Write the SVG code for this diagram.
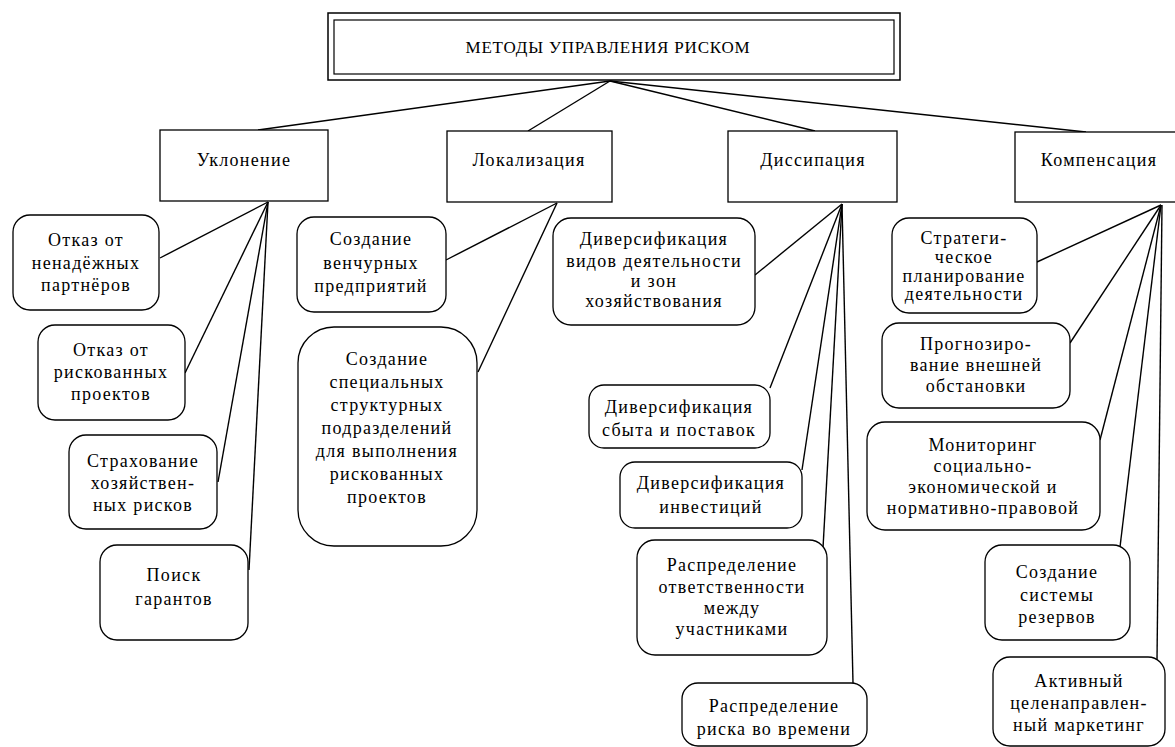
<svg xmlns="http://www.w3.org/2000/svg" width="1175" height="747" viewBox="0 0 1175 747">
<style>
.box{fill:#fff;stroke:#000;stroke-width:1.3}
.t{font-family:"Liberation Serif","Times New Roman",serif;font-size:18px;letter-spacing:1.3px;text-anchor:middle;fill:#000}
.tt{font-family:"Liberation Serif","Times New Roman",serif;font-size:17px;letter-spacing:0.8px;text-anchor:middle;fill:#000}
#connectors line{stroke:#000;stroke-width:1.4;fill:none}
</style>
<rect x="0" y="0" width="1175" height="747" fill="#fff"/>
<g id="connectors">
<line x1="610" y1="81" x2="258" y2="130"/>
<line x1="610" y1="81" x2="528" y2="131"/>
<line x1="610" y1="81" x2="815" y2="131"/>
<line x1="610" y1="81" x2="1086" y2="132"/>
<line x1="268" y1="202" x2="160" y2="258"/>
<line x1="268" y1="202" x2="185" y2="373"/>
<line x1="268" y1="202" x2="218" y2="482"/>
<line x1="268" y1="202" x2="249" y2="570"/>
<line x1="557" y1="203" x2="446" y2="260"/>
<line x1="557" y1="203" x2="478" y2="372"/>
<line x1="842" y1="204" x2="755" y2="275"/>
<line x1="842" y1="204" x2="770" y2="388"/>
<line x1="842" y1="204" x2="802" y2="470"/>
<line x1="842" y1="204" x2="823" y2="548"/>
<line x1="842" y1="204" x2="853" y2="683"/>
<line x1="1161" y1="205" x2="1037" y2="262"/>
<line x1="1161" y1="205" x2="1070" y2="343"/>
<line x1="1161" y1="205" x2="1100" y2="440"/>
<line x1="1161" y1="205" x2="1120" y2="547"/>
<line x1="1162" y1="205" x2="1157" y2="660"/>
</g>
<g id="root">
<rect x="328" y="13" width="572" height="67" fill="#fff" stroke="#000" stroke-width="1.5"/>
<rect x="334" y="20" width="560" height="54" fill="none" stroke="#000" stroke-width="1.2"/>
<text class="tt" x="608" y="53">МЕТОДЫ УПРАВЛЕНИЯ РИСКОМ</text>
</g>
<g id="uklonenie">
<rect class="box" x="160" y="130" width="168" height="71"/>
<text class="t" x="244" y="166">Уклонение</text>
</g>
<g id="lokalizaciya">
<rect class="box" x="447" y="131" width="165" height="71"/>
<text class="t" x="529" y="166">Локализация</text>
</g>
<g id="dissipaciya">
<rect class="box" x="728" y="131" width="169" height="71"/>
<text class="t" x="813" y="166">Диссипация</text>
</g>
<g id="kompensaciya">
<rect class="box" x="1015" y="132" width="170" height="70"/>
<text class="t" x="1099" y="166">Компенсация</text>
</g>
<g id="a1">
<rect class="box" x="13" y="215" width="146" height="95" rx="17"/>
<text class="t" x="86" y="246">Отказ от</text>
<text class="t" x="86" y="269">ненадёжных</text>
<text class="t" x="86" y="291">партнёров</text>
</g>
<g id="a2">
<rect class="box" x="38" y="325" width="147" height="95" rx="17"/>
<text class="t" x="111" y="356">Отказ от</text>
<text class="t" x="111" y="378">рискованных</text>
<text class="t" x="111" y="400">проектов</text>
</g>
<g id="a3">
<rect class="box" x="69" y="435" width="148" height="94" rx="17"/>
<text class="t" x="143" y="467">Страхование</text>
<text class="t" x="143" y="489">хозяйствен-</text>
<text class="t" x="143" y="511">ных рисков</text>
</g>
<g id="a4">
<rect class="box" x="100" y="545" width="148" height="95" rx="17"/>
<text class="t" x="174" y="581">Поиск</text>
<text class="t" x="174" y="605">гарантов</text>
</g>
<g id="b1">
<rect class="box" x="297" y="217" width="149" height="95" rx="17"/>
<text class="t" x="371" y="245">Создание</text>
<text class="t" x="371" y="269">венчурных</text>
<text class="t" x="371" y="292">предприятий</text>
</g>
<g id="b2">
<rect class="box" x="298" y="327" width="179" height="219" rx="36"/>
<text class="t" x="387" y="365">Создание</text>
<text class="t" x="387" y="388">специальных</text>
<text class="t" x="387" y="411">структурных</text>
<text class="t" x="387" y="434">подразделений</text>
<text class="t" x="387" y="457">для выполнения</text>
<text class="t" x="387" y="480">рискованных</text>
<text class="t" x="387" y="503">проектов</text>
</g>
<g id="c1">
<rect class="box" x="553" y="218" width="202" height="107" rx="18"/>
<text class="t" x="654" y="245">Диверсификация</text>
<text class="t" x="654" y="267">видов деятельности</text>
<text class="t" x="654" y="287">и зон</text>
<text class="t" x="654" y="307">хозяйствования</text>
</g>
<g id="c2">
<rect class="box" x="589" y="385" width="181" height="63" rx="15"/>
<text class="t" x="679" y="413">Диверсификация</text>
<text class="t" x="679" y="436">сбыта и поставок</text>
</g>
<g id="c3">
<rect class="box" x="620" y="462" width="182" height="66" rx="15"/>
<text class="t" x="711" y="489">Диверсификация</text>
<text class="t" x="711" y="513">инвестиций</text>
</g>
<g id="c4">
<rect class="box" x="637" y="540" width="190" height="115" rx="18"/>
<text class="t" x="732" y="571">Распределение</text>
<text class="t" x="732" y="593">ответственности</text>
<text class="t" x="732" y="614">между</text>
<text class="t" x="732" y="635">участниками</text>
</g>
<g id="c5">
<rect class="box" x="682" y="683" width="185" height="63" rx="16"/>
<text class="t" x="774" y="712">Распределение</text>
<text class="t" x="774" y="735">риска во времени</text>
</g>
<g id="d1">
<rect class="box" x="892" y="218" width="145" height="95" rx="17"/>
<text class="t" x="964" y="244">Стратеги-</text>
<text class="t" x="964" y="263">ческое</text>
<text class="t" x="964" y="282">планирование</text>
<text class="t" x="964" y="300">деятельности</text>
</g>
<g id="d2">
<rect class="box" x="882" y="323" width="188" height="85" rx="17"/>
<text class="t" x="976" y="350">Прогнозиро-</text>
<text class="t" x="976" y="371">вание внешней</text>
<text class="t" x="976" y="392">обстановки</text>
</g>
<g id="d3">
<rect class="box" x="867" y="422" width="233" height="108" rx="18"/>
<text class="t" x="983" y="451">Мониторинг</text>
<text class="t" x="983" y="472">социально-</text>
<text class="t" x="983" y="493">экономической и</text>
<text class="t" x="983" y="514">нормативно-правовой</text>
</g>
<g id="d4">
<rect class="box" x="985" y="545" width="145" height="95" rx="17"/>
<text class="t" x="1057" y="578">Создание</text>
<text class="t" x="1057" y="601">системы</text>
<text class="t" x="1057" y="623">резервов</text>
</g>
<g id="d5">
<rect class="box" x="993" y="657" width="172" height="89" rx="17"/>
<text class="t" x="1079" y="687">Активный</text>
<text class="t" x="1079" y="709">целенаправлен-</text>
<text class="t" x="1079" y="731">ный маркетинг</text>
</g>
</svg>
